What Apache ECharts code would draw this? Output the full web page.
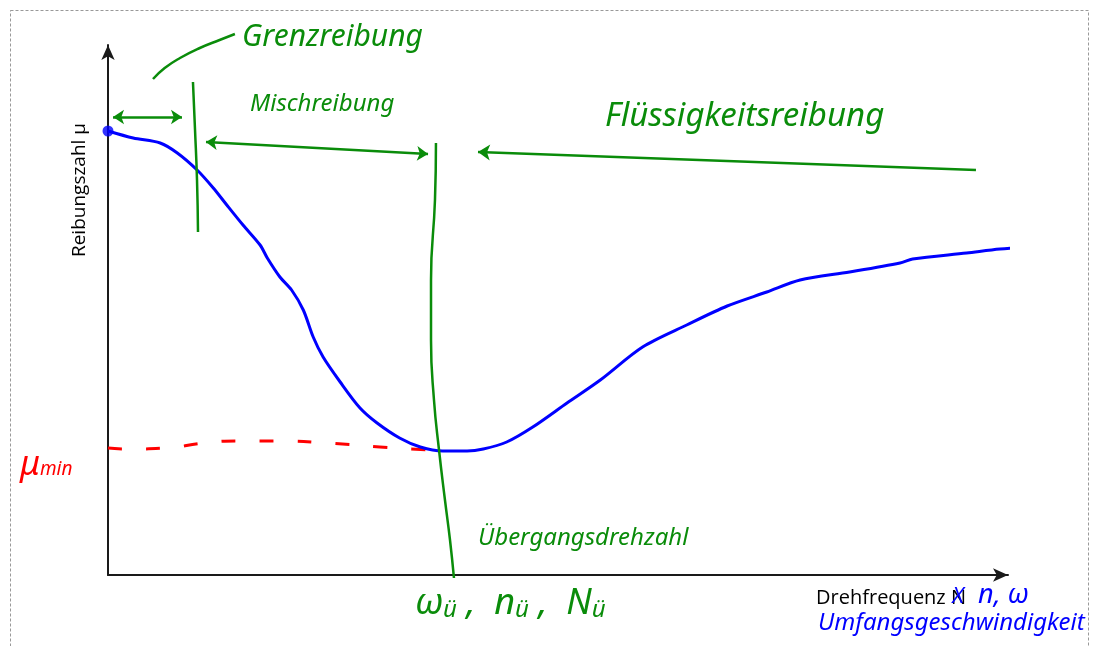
<!DOCTYPE html>
<html>
<head>
<meta charset="utf-8">
<script src="https://cdn.jsdelivr.net/npm/echarts@6/dist/echarts.min.js"></script>
<style>
    html, body { margin: 0; padding: 0; background: #fff; }
    #stribeck { width: 1093px; height: 646px; }
</style>
</head>
<body>
<div id="stribeck"></div>
<script>
    // Stribeck-Kurve, Achsen ohne Skala (N: 0..10, mu: 0..0.53)
    const stribeckN  = [0, 0.28, 0.58, 0.77, 0.99, 1.17, 1.32, 1.50, 1.69, 1.77, 1.91, 2.04, 2.17, 2.28, 2.39, 2.58, 2.80, 2.99, 3.24, 3.47, 3.72, 3.99, 4.17, 4.43, 4.72, 5.10, 5.47, 5.94, 6.43, 6.88, 7.32, 7.69, 8.24, 8.80, 8.94, 9.54, 9.91, 10.36];
    const stribeckMu = [0.444, 0.437, 0.432, 0.422, 0.405, 0.387, 0.370, 0.350, 0.330, 0.317, 0.298, 0.285, 0.265, 0.238, 0.218, 0.193, 0.167, 0.152, 0.137, 0.128, 0.124, 0.124, 0.126, 0.133, 0.148, 0.172, 0.195, 0.228, 0.250, 0.269, 0.283, 0.295, 0.303, 0.312, 0.316, 0.322, 0.326, 0.329];

    // mu_min, rot gestrichelt
    const muMinN  = [0, 0.21, 0.66, 1.06, 1.47, 1.91, 2.43, 3.02, 3.36, 3.58];
    const muMinMu = [0.127, 0.126, 0.127, 0.132, 0.134, 0.134, 0.132, 0.128, 0.126, 0.125];

    // gruene Handstriche
    const grenzBogen   = [[0.50, 0.496], [0.63, 0.507], [0.80, 0.517], [1.02, 0.527], [1.24, 0.535], [1.41, 0.541]];
    const grenzLinie   = [[0.944, 0.493], [0.967, 0.445], [0.989, 0.395], [1.0, 0.343]];
    const uebergang    = [[3.644, 0.432], [3.633, 0.375], [3.589, 0.295], [3.589, 0.235], [3.622, 0.175], [3.678, 0.125], [3.744, 0.075], [3.80, 0.035], [3.844, -0.003]];
    const pfeilGrenz   = [[0.056, 0.458], [0.822, 0.458]];
    const pfeilMisch   = [[1.089, 0.433], [3.556, 0.421]];
    const pfeilFluessig = [[9.644, 0.405], [4.111, 0.423]];

    const green = '#0a8c0a';
    const blue = '#0000ff';
    const red = '#ff0000';

    const myChart = echarts.init(document.getElementById('stribeck'));

    const zip = (xs, ys) => xs.map((x, i) => [x, ys[i]]);

    const option = {
        animation: false,
        backgroundColor: '#fff',
        grid: { left: 108, right: 85, top: 45, bottom: 71 },
        xAxis: {
            type: 'value', min: 0, max: 10,
            axisLine: { show: true, symbol: ['none', 'arrow'], symbolSize: [10, 15], symbolOffset: [0, 0],
                lineStyle: { color: '#1a1a1a', width: 2 } },
            axisTick: { show: false }, axisLabel: { show: false }, splitLine: { show: false }
        },
        yAxis: {
            type: 'value', min: 0, max: 0.53,
            axisLine: { show: true, symbol: ['none', 'arrow'], symbolSize: [10, 15], symbolOffset: [0, 0],
                lineStyle: { color: '#1a1a1a', width: 2 } },
            axisTick: { show: false }, axisLabel: { show: false }, splitLine: { show: false }
        },
        series: [
            {
                name: 'mu_min', type: 'line', data: zip(muMinN, muMinMu), smooth: true,
                showSymbol: false, clip: false,
                lineStyle: { color: red, width: 3, type: [14, 24] }
            },
            {
                name: 'Reibungszahl', type: 'line', data: zip(stribeckN, stribeckMu), smooth: 0.3,
                showSymbol: false, clip: false,
                lineStyle: { color: blue, width: 3 }
            },
            {
                type: 'scatter', data: [zip(stribeckN, stribeckMu)[0]], symbolSize: 11,
                itemStyle: { color: blue }, clip: false
            },
            {
                type: 'line', data: grenzBogen, smooth: true, showSymbol: false, clip: false,
                lineStyle: { color: green, width: 2.5 }
            },
            {
                type: 'line', data: grenzLinie, smooth: true, showSymbol: false, clip: false,
                lineStyle: { color: green, width: 2.5 }
            },
            {
                type: 'line', data: uebergang, smooth: true, showSymbol: false, clip: false,
                lineStyle: { color: green, width: 2.5 }
            },
            {
                type: 'lines', coordinateSystem: 'cartesian2d', clip: false,
                symbol: ['arrow', 'arrow'], symbolSize: 11,
                lineStyle: { color: green, width: 2.5, curveness: 0, opacity: 1 },
                data: [{ coords: pfeilGrenz }]
            },
            {
                type: 'lines', coordinateSystem: 'cartesian2d', clip: false,
                symbol: ['arrow', 'arrow'], symbolSize: 11,
                lineStyle: { color: green, width: 2.5, curveness: 0, opacity: 1 },
                data: [{ coords: pfeilMisch }]
            },
            {
                type: 'lines', coordinateSystem: 'cartesian2d', clip: false,
                symbol: ['none', 'arrow'], symbolSize: 12,
                lineStyle: { color: green, width: 2.5, curveness: 0, opacity: 1 },
                data: [{ coords: pfeilFluessig }]
            }
        ],
        graphic: [
            { type: 'rect', shape: { x: 10.5, y: 10.5, width: 1078, height: 700 },
              style: { fill: 'none', stroke: '#999', lineWidth: 1, lineDash: [3, 2] }, silent: true },
            { type: 'text', x: 80, y: 190, rotation: Math.PI / 2,
              style: { text: 'Reibungszahl μ', font: '19px "Open Sans"', fill: '#000', align: 'center', verticalAlign: 'middle' } },
            { type: 'text', x: 966, y: 598,
              style: { text: 'Drehfrequenz N', font: '20px "Open Sans"', fill: '#000', align: 'right', verticalAlign: 'middle' } },
            { type: 'text', x: 958, y: 597,
              style: { text: 'X', font: 'italic 22px "Noto Sans"', fill: blue, align: 'center', verticalAlign: 'middle' } },
            { type: 'text', x: 978, y: 582,
              style: { text: 'n, ω', font: 'italic 27px "Noto Sans"', fill: blue } },
            { type: 'text', x: 818, y: 611,
              style: { text: 'Umfangsgeschwindigkeit', font: 'italic 24px "Noto Sans"', fill: blue } },
            { type: 'text', x: 242, y: 22,
              style: { text: 'Grenzreibung', font: 'italic 30px "Noto Sans"', fill: green } },
            { type: 'text', x: 250, y: 92,
              style: { text: 'Mischreibung', font: 'italic 24px "Noto Sans"', fill: green } },
            { type: 'text', x: 605, y: 100,
              style: { text: 'Flüssigkeitsreibung', font: 'italic 33px "Noto Sans"', fill: green } },
            { type: 'text', x: 478, y: 526,
              style: { text: 'Übergangsdrehzahl', font: 'italic 24px "Noto Sans"', fill: green } },
            { type: 'text', x: 415, y: 584,
              style: {
                  text: '{b|ω}{s|ü}{b| ,  n}{s|ü}{b| ,  N}{s|ü}',
                  rich: {
                      b: { font: 'italic 36px "Noto Sans"', fill: green, verticalAlign: 'bottom' },
                      s: { font: 'italic 24px "Noto Sans"', fill: green, padding: [14, 0, 0, 0] }
                  }
              } },
            { type: 'text', x: 20, y: 448,
              style: {
                  text: '{b|μ}{s|min}',
                  rich: {
                      b: { font: 'italic 34px "Noto Sans"', fill: red },
                      s: { font: 'italic 19px "Noto Sans"', fill: red, padding: [10, 0, 0, 0] }
                  }
              } }
        ]
    };

    myChart.setOption(option);
</script>
</body>
</html>
